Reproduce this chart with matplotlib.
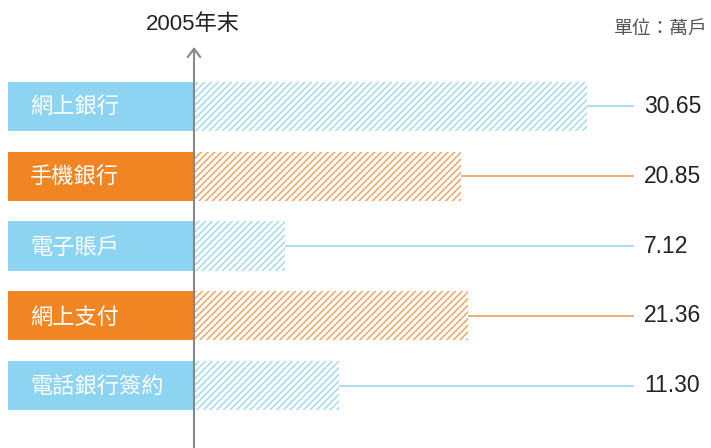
import matplotlib
matplotlib.use("Agg")
import matplotlib.pyplot as plt

plt.rcParams['font.family'] = ['Liberation Sans', 'Noto Sans CJK TC']
plt.rcParams['hatch.linewidth'] = 1.1

# ---- data ----
categories = ["網上銀行", "手機銀行", "電子賬戶", "網上支付", "電話銀行簽約"]
values = [30.65, 20.85, 7.12, 21.36, 11.30]
value_labels = ["30.65", "20.85", "7.12", "21.36", "11.30"]
title_text = "2005年末"
unit_text = "單位：萬戶"

BLUE = "#8dd4f3"
ORANGE = "#f18524"
BLUE_HATCH = "#a4daf2"
ORANGE_HATCH = "#f2a463"
BLUE_LINE = "#a9d9ee"
ORANGE_LINE = "#eca66c"
box_colors = [BLUE, ORANGE, BLUE, ORANGE, BLUE]
hatch_colors = [BLUE_HATCH, ORANGE_HATCH, BLUE_HATCH, ORANGE_HATCH, BLUE_HATCH]
line_colors = [BLUE_LINE, ORANGE_LINE, BLUE_LINE, ORANGE_LINE, BLUE_LINE]

W, H = 711, 448
fig = plt.figure(figsize=(W / 100, H / 100), dpi=100)
ax = fig.add_axes([0, 0, 1, 1])

# layout: pixel geometry
x0_px = 194.0          # axis position
k = (587 - x0_px) / max(values)  # px per unit
row0_px, row_step = 106.3, 69.85
ax.set_xlim(-x0_px / k, (W - x0_px) / k)
ax.set_ylim((H - row0_px) / row_step, -row0_px / row_step)
ax.axis('off')

def px2x(px):
    return (px - x0_px) / k

ys = list(range(len(categories)))
bar_h = 49 / row_step

# label boxes
ax.barh(ys, [px2x(x0_px) - px2x(8)] * len(ys), left=px2x(8), height=bar_h,
        color=box_colors, linewidth=0, zorder=2)
for y, c in zip(ys, categories):
    ax.text(px2x(30), y + 0.02, c, color='white', fontsize=16, va='center', ha='left',
            family=['Noto Sans CJK TC'], zorder=3)

# hatched bars
ax.barh(ys, values, left=0, height=bar_h, color='white', edgecolor=hatch_colors,
        hatch='/////', linewidth=0, zorder=2)

# leader lines and value labels
for y, v, lab, lc in zip(ys, values, value_labels, line_colors):
    ax.plot([v, px2x(634)], [y, y], color=lc, lw=1.3, zorder=1, solid_capstyle='butt')
    ax.text(px2x(644), y, lab, fontsize=16.5, color='#222222', va='center', ha='left')

# vertical axis arrow
top_y = -(row0_px - 47) / row_step
bot_y = (H - row0_px) / row_step
ax.annotate('', xy=(0, top_y), xytext=(0, bot_y),
            arrowprops=dict(arrowstyle='->,head_length=0.6,head_width=0.45',
                            color='#888888', lw=1.5, shrinkA=0, shrinkB=0),
            zorder=4)

ax.text(px2x(193), -(row0_px - 25) / row_step, title_text, fontsize=16,
        color='#222222', ha='center', va='center')
ax.text(px2x(708), -(row0_px - 29) / row_step, unit_text, fontsize=13.5,
        color='#555555', ha='right', va='center', family=['Noto Sans CJK TC'])

fig.savefig('out.png', dpi=100)
